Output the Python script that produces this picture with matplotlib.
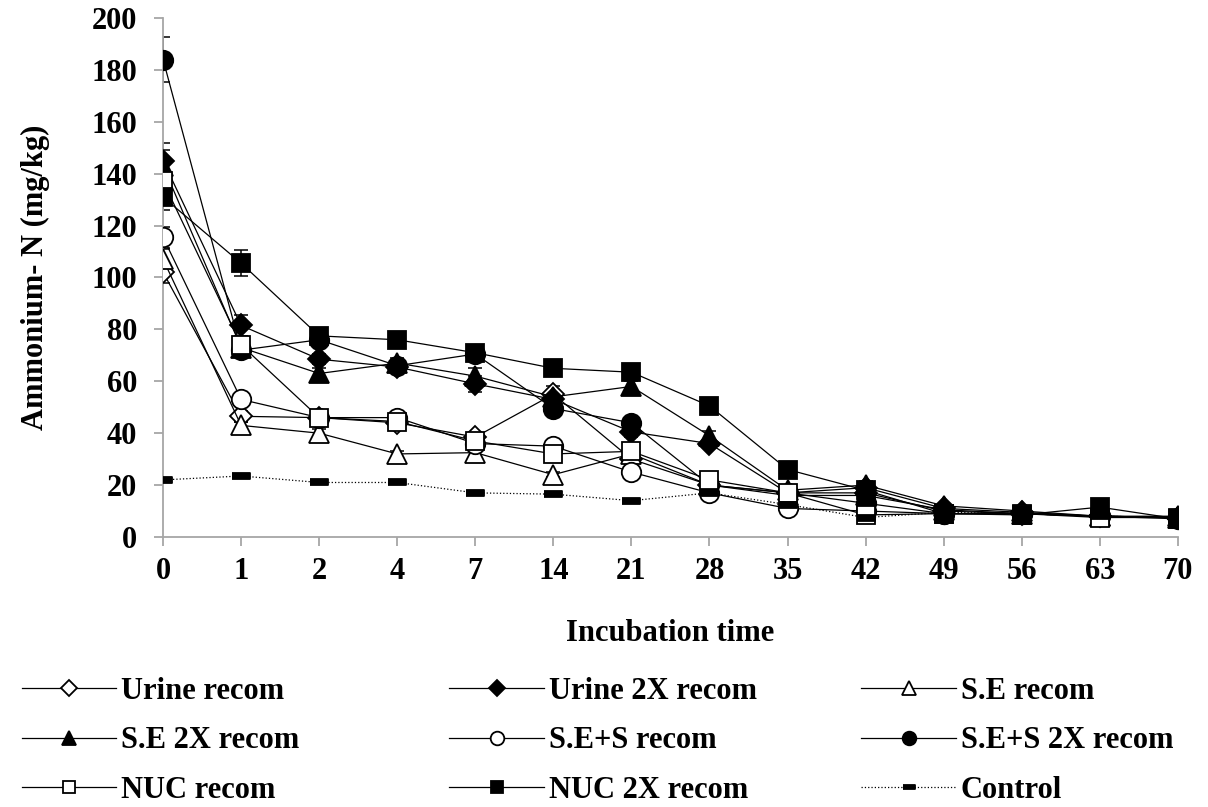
import matplotlib
matplotlib.use('Agg')
import matplotlib.pyplot as plt
import numpy as np

# incubation days (categorical axis)
days = ['0', '1', '2', '4', '7', '14', '21', '28', '35', '42', '49', '56', '63', '70']

# ammonium-N (mg/kg)
urine = [102, 46.5, 46, 44, 38.5, 55, 30, 20, 17, 17, 10, 9, 8, 7.5]
urine_2x = [145, 81.5, 68.5, 65.5, 59, 53, 40.5, 36, 17, 19, 11, 9.5, 8, 7.5]
se = [107, 43, 40, 32, 32.5, 24, 32, 20, 16, 16, 10.5, 9, 8, 7.5]
se_2x = [143, 73, 63, 67, 62, 54, 58, 39, 18, 20, 12, 10, 8, 8]
ses = [115.5, 53, 46, 46, 36, 35, 25, 17, 11, 10, 9, 9, 8, 7.5]
ses_2x = [184, 72, 76, 66, 70.5, 49.5, 44, 20, 17, 13, 9, 9, 8, 7]
nuc = [137, 74, 46, 44.5, 37, 32, 33, 22, 17, 8.5, 9, 9, 7.5, 7.5]
nuc_2x = [131, 105.5, 77.5, 76, 71, 65, 63.5, 50.5, 26, 18, 9, 8.5, 11.5, 7]
control = [22, 23.5, 21, 21, 17, 16.5, 14, 17, 12.5, 7.5, 9.5, 9, 8, 7.5]

# standard errors
urine_err = [4, 2, 1.5, 1.5, 2, 3, 1.5, 1, 1, 1, 0.5, 0.5, 0.5, 0.5]
urine_2x_err = [7, 4, 2, 2, 3, 2, 2, 1.5, 1, 1.5, 0.5, 0.5, 0.5, 0.5]
se_err = [4, 1.5, 1.5, 1, 1.5, 1, 1.5, 1, 1, 1, 0.5, 0.5, 0.5, 0.5]
se_2x_err = [6, 2, 2, 2, 3, 2, 2, 2, 1, 1.5, 0.5, 0.5, 0.5, 0.5]
ses_err = [4, 2, 1.5, 1.5, 1.5, 1.5, 1.5, 1, 1, 1, 0.5, 0.5, 0.5, 0.5]
ses_2x_err = [8.5, 2, 2, 2, 2, 2, 1.5, 1, 1, 1, 0.5, 0.5, 0.5, 0.5]
nuc_err = [5, 2, 1.5, 1.5, 1.5, 2, 1.5, 1, 1, 1, 0.5, 0.5, 0.5, 0.5]
nuc_2x_err = [5, 5, 2, 2, 2, 1.5, 1.5, 1, 1, 1, 0.5, 0.5, 1, 0.5]
control_err = [0.5, 0.8, 0.5, 0.5, 0.5, 0.5, 0.5, 0.5, 0.5, 0.5, 0.3, 0.3, 0.3, 0.3]

labels = ['Urine recom', 'Urine 2X recom', 'S.E recom',
          'S.E 2X recom', 'S.E+S recom', 'S.E+S 2X recom',
          'NUC recom', 'NUC 2X recom', 'Control']
values = [urine, urine_2x, se, se_2x, ses, ses_2x, nuc, nuc_2x, control]
errors = [urine_err, urine_2x_err, se_err, se_2x_err, ses_err, ses_2x_err, nuc_err, nuc_2x_err, control_err]

dash = [(-1, -0.32), (1, -0.32), (1, 0.32), (-1, 0.32)]
styles = [
    dict(marker='D', ms=11, mfc='white'),
    dict(marker='D', ms=11, mfc='black'),
    dict(marker='^', ms=14, mfc='white'),
    dict(marker='^', ms=14, mfc='black'),
    dict(marker='o', ms=14, mfc='white'),
    dict(marker='o', ms=14, mfc='black'),
    dict(marker='s', ms=13, mfc='white'),
    dict(marker='s', ms=13, mfc='black'),
    dict(marker=dash, ms=13, mfc='black'),
]

plt.rcParams['font.family'] = ['Liberation Serif', 'DejaVu Serif']
plt.rcParams['font.weight'] = 'bold'
fs = 22

fig = plt.figure(figsize=(12.08, 8.07), dpi=100)
ax = fig.add_axes([0.135, 0.3346, 0.975 - 0.135, 0.9777 - 0.3346])

x = np.arange(len(days))
handles = []
for lab, vals, err, st in zip(labels, values, errors, styles):
    ls = ':' if lab == 'Control' else '-'
    ax.errorbar(x, vals, yerr=err, fmt='none', ecolor='black', elinewidth=1.1,
                capsize=5, capthick=1.1, zorder=2)
    h, = ax.plot(x, vals, color='black', lw=0.9, ls=ls, marker=st['marker'],
                 ms=st['ms'], mfc=st['mfc'], mec='black', mew=1.3, label=lab, zorder=3)
    handles.append(h)

ax.set_xlim(0, len(days) - 1)
ax.set_ylim(0, 200)
ax.set_yticks(np.arange(0, 201, 20))
ax.set_xticks(x)
ax.set_xticklabels(days)

for s in ['top', 'right']:
    ax.spines[s].set_visible(False)
for s in ['left', 'bottom']:
    ax.spines[s].set_color('#a6a6a6')
    ax.spines[s].set_linewidth(1.3)
ax.tick_params(axis='both', direction='out', length=6.5, width=1.3, color='#a6a6a6',
               labelsize=fs)
ax.tick_params(axis='x', pad=8)
ax.tick_params(axis='y', pad=12)
for t in ax.get_xticklabels() + ax.get_yticklabels():
    t.set_fontweight('bold')

ax.set_xlabel('Incubation time', fontsize=fs, fontweight='bold', labelpad=24)
ax.set_ylabel('Ammonium- N (mg/kg)', fontsize=fs, fontweight='bold', labelpad=30)

# legend: three columns placed by hand like the Excel original
col_x = [0.018, 0.372, 0.713]
for i in range(3):
    fig.legend(handles=[handles[i], handles[i + 3], handles[i + 6]],
               loc='center left', bbox_to_anchor=(col_x[i], 0.082),
               frameon=False, prop={'weight': 'bold', 'size': fs},
               handlelength=3.1, handletextpad=0.15, labelspacing=0.68,
               borderpad=0, borderaxespad=0, markerscale=0.7)

fig.savefig('out.png', dpi=100)
